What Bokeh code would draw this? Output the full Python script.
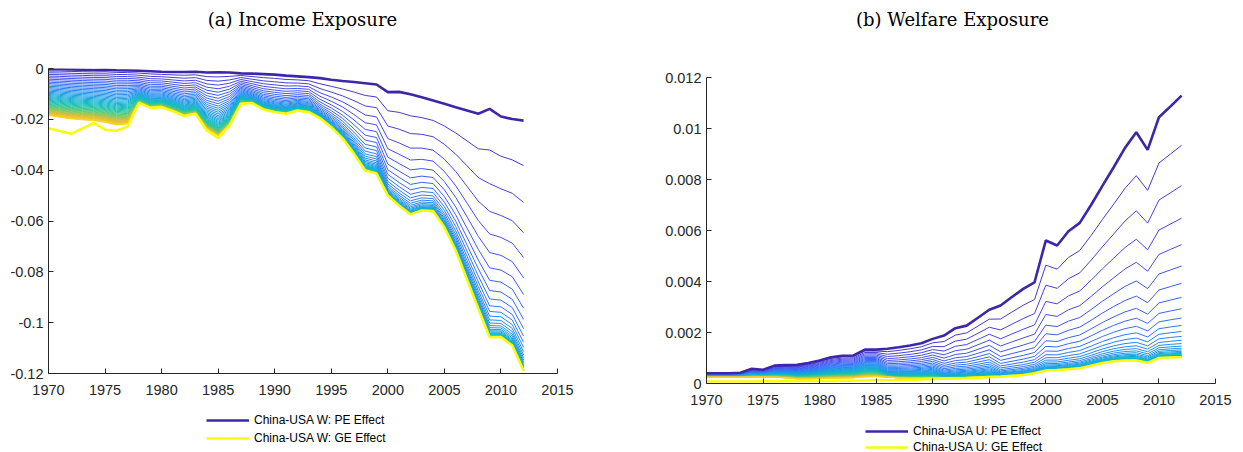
import numpy as np
from bokeh.plotting import figure
from bokeh.layouts import row, column
from bokeh.models import (ColumnDataSource, Legend, LegendItem, FixedTicker,
                          Range1d, CustomJSTickFormatter)
from bokeh.core.properties import value
from bokeh.embed import file_html
from bokeh.resources import INLINE

# ---------------- data ----------------
years = list(range(1970, 2013))
xticks = [1970, 1975, 1980, 1985, 1990, 1995, 2000, 2005, 2010, 2015]

income_pe = [-0.0003, -0.0003, -0.0004, -0.0005, -0.0006, -0.0005, -0.0007, -0.0008, -0.0009, -0.0011,
             -0.0013, -0.0014, -0.0014, -0.0013, -0.0016, -0.0015, -0.0016, -0.0019, -0.0020, -0.0022,
             -0.0024, -0.0028, -0.0031, -0.0034, -0.0038, -0.0044, -0.0049, -0.0053, -0.0058, -0.0063,
             -0.0093, -0.0092, -0.0101, -0.0113, -0.0126, -0.0139, -0.0152, -0.0165, -0.0178, -0.0159,
             -0.0189, -0.0199, -0.0205]
income_ge = [-0.0235, -0.0246, -0.0257, -0.0236, -0.0214, -0.0241, -0.0245, -0.0228, -0.0135, -0.0155,
             -0.0152, -0.0168, -0.0187, -0.0178, -0.0244, -0.0274, -0.0224, -0.0139, -0.0136, -0.0161,
             -0.0172, -0.0178, -0.0165, -0.0172, -0.0195, -0.0231, -0.0275, -0.0335, -0.0401, -0.0413,
             -0.0500, -0.0540, -0.0574, -0.0559, -0.0561, -0.0625, -0.0716, -0.0830, -0.0945, -0.1057,
             -0.1057, -0.1090, -0.1188]
# lower edge of the fan of iteration lines
income_lim = [-0.0185, -0.0192, -0.0198, -0.0202, -0.0205, -0.0212, -0.0222, -0.0218, -0.0135, -0.0155,
              -0.0152, -0.0168, -0.0187, -0.0178, -0.0238, -0.0265, -0.0224, -0.0139, -0.0136, -0.0161,
              -0.0172, -0.0178, -0.0168, -0.0172, -0.0195, -0.0231, -0.0275, -0.0335, -0.0401, -0.0413,
              -0.0500, -0.0540, -0.0574, -0.0559, -0.0561, -0.0625, -0.0716, -0.0830, -0.0945, -0.1057,
              -0.1057, -0.1090, -0.1188]
# how fast the iteration lines close in on the lower edge, per year
income_rate = [0.97] * 8 + [0.93] * 10 + [0.90] * 6 + [0.86] * 6 + [0.82] * 13
income_yticks = [-0.12, -0.1, -0.08, -0.06, -0.04, -0.02, 0]

welfare_pe = [0.00040, 0.00040, 0.00040, 0.00042, 0.00058, 0.00054, 0.00070, 0.00072, 0.00073, 0.00080,
              0.00090, 0.00103, 0.00109, 0.00110, 0.00133, 0.00133, 0.00136, 0.00142, 0.00149, 0.00158,
              0.00175, 0.00188, 0.00217, 0.00227, 0.00258, 0.00289, 0.00306, 0.00339, 0.00371, 0.00397,
              0.00561, 0.00541, 0.00597, 0.00630, 0.00700, 0.00775, 0.00848, 0.00924, 0.00985, 0.00916,
              0.01044, 0.01086, 0.01129]
welfare_ge = [0.00008, 0.00008, 0.00008, 0.00008, 0.00008, 0.00009, 0.00009, 0.00009, 0.00010, 0.00010,
              0.00010, 0.00010, 0.00011, 0.00011, 0.00012, 0.00013, 0.00013, 0.00014, 0.00015, 0.00016,
              0.00018, 0.00019, 0.00020, 0.00021, 0.00023, 0.00025, 0.00027, 0.00030, 0.00033, 0.00040,
              0.00051, 0.00053, 0.00056, 0.00060, 0.00070, 0.00080, 0.00087, 0.00090, 0.00090, 0.00081,
              0.00100, 0.00102, 0.00103]
welfare_lim = [0.00024, 0.00024, 0.00024, 0.00024, 0.00025, 0.00025, 0.00024, 0.00022, 0.00018, 0.00018,
               0.00019, 0.00020, 0.00021, 0.00022, 0.00026, 0.00027, 0.00025, 0.00022, 0.00021, 0.00021,
               0.00021, 0.00021, 0.00022, 0.00023, 0.00024, 0.00026, 0.00027, 0.00030, 0.00033, 0.00040,
               0.00051, 0.00053, 0.00056, 0.00060, 0.00070, 0.00080, 0.00087, 0.00090, 0.00090, 0.00081,
               0.00100, 0.00102, 0.00103]
welfare_rate = [0.95] * 16 + [0.90] * 5 + [0.86] * 5 + [0.81] * 17
welfare_yticks = [0, 0.002, 0.004, 0.006, 0.008, 0.01, 0.012]

titles = ["(a) Income Exposure", "(b) Welfare Exposure"]
income_names = ["China-USA W: PE Effect", "China-USA W: GE Effect"]
welfare_names = ["China-USA U: PE Effect", "China-USA U: GE Effect"]

N_ITER = 49

# ---------------- style ----------------
PARULA = [(0.00, (62, 38, 168)), (0.10, (72, 72, 235)), (0.20, (52, 112, 250)),
          (0.30, (30, 146, 236)), (0.40, (18, 172, 214)), (0.50, (22, 190, 184)),
          (0.60, (62, 201, 140)), (0.70, (142, 200, 82)), (0.80, (222, 188, 48)),
          (0.90, (252, 202, 40)), (1.00, (249, 251, 20))]


def parula(t):
    for (t0, c0), (t1, c1) in zip(PARULA[:-1], PARULA[1:]):
        if t <= t1:
            a = (t - t0) / (t1 - t0)
            return "#%02x%02x%02x" % tuple(int(round(c0[i] + a * (c1[i] - c0[i]))) for i in range(3))
    return "#%02x%02x%02x" % PARULA[-1][1]


PE_COLOR = "#3e26a8"
GE_COLOR = "#f9fb0e"
AX = "#262626"
W_LEFT, W_RIGHT = 628, 615
H_TITLE, H_MAIN, H_LEG = 40, 372, 40


def blank(width, height):
    p = figure(width=width, height=height, output_backend="svg", toolbar_location=None,
               x_range=Range1d(0, width), y_range=Range1d(0, height),
               x_axis_type=None, y_axis_type=None, min_border=0)
    p.outline_line_color = None
    p.xgrid.visible = False
    p.ygrid.visible = False
    return p


def title_fig(width, text, cx):
    p = blank(width, H_TITLE)
    p.text(x=[cx], y=[H_TITLE - 19], text=[text], text_align="center", text_baseline="middle",
           text_font=value("DejaVu Serif"), text_font_size="18px", text_color="#000000")
    return p


def legend_fig(width, names, loc, row_h):
    p = blank(width, H_LEG)
    nan = np.array([np.nan])
    r1 = p.line(nan, nan, line_color=PE_COLOR, line_width=2.6)
    r2 = p.line(nan, nan, line_color=GE_COLOR, line_width=2.6)
    lg = Legend(items=[LegendItem(label=names[0], renderers=[r1]),
                       LegendItem(label=names[1], renderers=[r2])],
                location=loc, orientation="vertical")
    lg.label_text_font = "Liberation Sans"
    lg.label_text_font_size = "12px"
    lg.label_text_color = "#000000"
    lg.glyph_width = 43
    lg.glyph_height = row_h
    lg.label_height = row_h
    lg.label_standoff = 5
    lg.spacing = 0
    lg.padding = 0
    lg.margin = 0
    lg.border_line_color = None
    lg.background_fill_alpha = 0
    p.add_layout(lg, "center")
    return p


def panel(pe, ge, lim, rate, yticks, yrange, width, borders):
    bl, br, bt, bb = borders
    p = figure(width=width, height=H_MAIN, output_backend="svg", toolbar_location=None,
               x_range=Range1d(1970, 2015), y_range=Range1d(*yrange),
               min_border_left=bl, min_border_right=br, min_border_top=bt, min_border_bottom=bb)
    p.outline_line_color = None
    p.xgrid.visible = False
    p.ygrid.visible = False

    xs, ys, cols = [], [], []
    for k in range(1, N_ITER + 1):
        line = []
        for j in range(len(years)):
            r = rate[j]
            f = (1 - r ** k) / (1 - r ** N_ITER)
            line.append(pe[j] + f * (lim[j] - pe[j]))
        xs.append(years)
        ys.append(line)
        cols.append(parula(0.04 + 0.88 * k / N_ITER))
    src = ColumnDataSource(dict(xs=xs, ys=ys, color=cols))
    p.multi_line(xs="xs", ys="ys", line_color="color", line_width=1, source=src)

    p.line(years, pe, line_color=PE_COLOR, line_width=2.6)
    p.line(years, ge, line_color=GE_COLOR, line_width=2.6)

    for ax in (p.xaxis[0], p.yaxis[0]):
        ax.axis_line_color = AX
        ax.major_tick_line_color = AX
        ax.minor_tick_line_color = None
        ax.major_tick_in = 5
        ax.major_tick_out = 0
        ax.major_label_text_font = "Liberation Sans"
        ax.major_label_text_font_size = "14.5px"
        ax.major_label_text_color = AX
    p.xaxis[0].ticker = FixedTicker(ticks=xticks)
    p.xaxis[0].major_label_standoff = 11
    p.yaxis[0].ticker = FixedTicker(ticks=yticks)
    p.yaxis[0].major_label_standoff = 5
    p.yaxis[0].formatter = CustomJSTickFormatter(code="return String(tick);")
    return p


p1 = panel(income_pe, income_ge, income_lim, income_rate, income_yticks, (-0.12, 0),
           W_LEFT, (48, 71, 28, 39))
p2 = panel(welfare_pe, welfare_ge, welfare_lim, welfare_rate, welfare_yticks, (0, 0.012),
           W_RIGHT, (78, 28, 37, 29))

t1 = title_fig(W_LEFT, titles[0], 302)
t2 = title_fig(W_RIGHT, titles[1], 324)
l1 = legend_fig(W_LEFT, income_names, (206, 5), 18)
l2 = legend_fig(W_RIGHT, welfare_names, (237, -3), 16)

layout = row(column(t1, row(p1), l1), column(t2, row(p2), l2))
open("out.html", "w").write(file_html(layout, INLINE))
